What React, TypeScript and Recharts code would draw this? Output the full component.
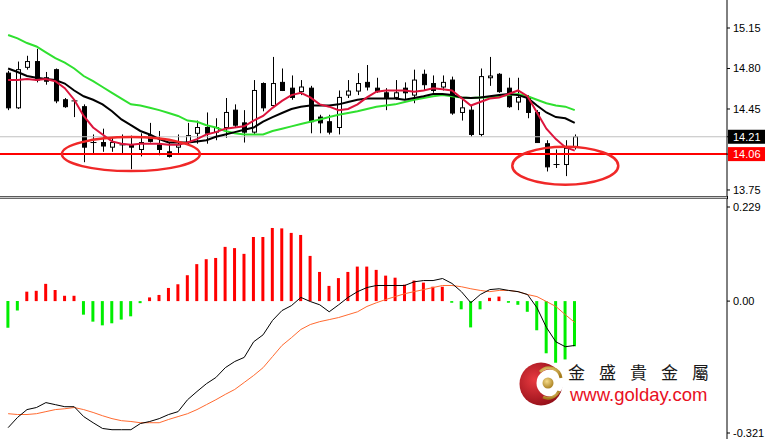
import {
  Bar,
  CartesianGrid,
  Cell,
  ComposedChart,
  Line,
  ReferenceDot,
  ReferenceLine,
  XAxis,
  YAxis,
} from "recharts";

// price panel, one entry per daily candle
const opens = [
  14.76, 14.46, 14.81, 14.86, 14.72, 14.79, 14.53, 14.52, 14.47, 14.16,
  14.16, 14.12, 14.14, 14.14, 14.1, 14.22, 14.14, 14.08, 14.12, 14.16,
  14.24, 14.29, 14.25, 14.29, 14.44, 14.33, 14.25, 14.67, 14.48, 14.68,
  14.63, 14.6, 14.63, 14.38, 14.34, 14.29, 14.57, 14.605, 14.68, 14.63,
  14.59, 14.55, 14.63, 14.57, 14.75, 14.67, 14.64, 14.7, 14.42, 14.44,
  14.23, 14.72, 14.75, 14.63, 14.51, 14.55, 14.42, 14.15, 13.97, 13.97,
  14.12,
];
const highs = [
  14.78, 14.86, 14.91, 14.97, 14.77, 14.8, 14.545, 14.53, 14.49, 14.23,
  14.28, 14.2, 14.23, 14.22, 14.24, 14.33, 14.26, 14.16, 14.23, 14.33,
  14.35, 14.42, 14.37, 14.545, 14.49, 14.44, 14.7, 14.68, 14.9, 14.8,
  14.74, 14.7, 14.65, 14.4, 14.4, 14.61, 14.7, 14.76, 14.83, 14.72,
  14.63, 14.7, 14.68, 14.79, 14.79, 14.74, 14.74, 14.73, 14.545, 14.48,
  14.8, 14.9, 14.76, 14.72, 14.72, 14.57, 14.44, 14.18, 14.1, 14.18,
  14.23,
];
const lows = [
  14.44, 14.45, 14.79, 14.68, 14.66, 14.5, 14.46, 14.38, 13.99, 14.07,
  14.08, 14.08, 14.07, 13.93, 14.04, 14.16, 14.05, 14.03, 14.07, 14.14,
  14.15, 14.15, 14.18, 14.2, 14.29, 14.16, 14.23, 14.43, 14.47, 14.605,
  14.53, 14.57, 14.24, 14.24, 14.23, 14.23, 14.545, 14.57, 14.61, 14.59,
  14.44, 14.53, 14.53, 14.5, 14.61, 14.59, 14.61, 14.4, 14.35, 14.21,
  14.21, 14.65, 14.59, 14.46, 14.44, 14.37, 14.16, 13.91, 13.94, 13.87,
  14.1,
];
const closes = [
  14.46, 14.79, 14.86, 14.7, 14.69, 14.52, 14.47, 14.51, 14.12, 14.155,
  14.13, 14.16, 14.135, 14.12, 14.16, 14.17, 14.1, 14.04, 14.14, 14.22,
  14.29, 14.24, 14.29, 14.42, 14.31, 14.25, 14.61, 14.46, 14.67, 14.61,
  14.55, 14.64, 14.34, 14.33, 14.25, 14.55, 14.605, 14.67, 14.64, 14.6,
  14.55, 14.59, 14.59, 14.7, 14.66, 14.61, 14.68, 14.415, 14.46, 14.23,
  14.73, 14.735, 14.6, 14.47, 14.55, 14.42, 14.16, 13.95, 13.966, 14.11,
  14.21,
];
const maFast = [
  14.7, 14.7, 14.71, 14.7, 14.71, 14.69, 14.63, 14.53, 14.39, 14.29,
  14.23, 14.17, 14.15, 14.14, 14.15, 14.15, 14.15, 14.14, 14.14, 14.16,
  14.19, 14.23, 14.25, 14.28, 14.29, 14.3, 14.35, 14.39, 14.46, 14.52,
  14.57, 14.59, 14.55, 14.49, 14.47, 14.44, 14.45, 14.49, 14.55, 14.6,
  14.61, 14.61, 14.61, 14.6, 14.61, 14.63, 14.62, 14.61, 14.545, 14.48,
  14.51, 14.54, 14.55, 14.58, 14.61, 14.56, 14.42, 14.28, 14.19, 14.12,
  14.09,
];
const maMid = [
  14.8, 14.77, 14.735, 14.72, 14.71, 14.7, 14.67, 14.61, 14.56, 14.53,
  14.49, 14.43, 14.36, 14.31, 14.26, 14.23, 14.19, 14.16, 14.16, 14.16,
  14.17, 14.18, 14.21, 14.23, 14.25, 14.27, 14.29, 14.34, 14.38, 14.415,
  14.45, 14.47, 14.48, 14.48, 14.48, 14.49, 14.51, 14.53, 14.54, 14.54,
  14.54, 14.54, 14.53, 14.545, 14.56, 14.58, 14.58, 14.57, 14.55, 14.545,
  14.55, 14.56, 14.57, 14.58, 14.57, 14.545, 14.48, 14.42, 14.38, 14.37,
  14.33,
];
const maSlow = [
  15.09, 15.06, 15.02, 14.99, 14.94, 14.89, 14.85, 14.8, 14.735, 14.69,
  14.64, 14.59, 14.54, 14.49, 14.48, 14.46, 14.44, 14.415, 14.39, 14.35,
  14.34, 14.31, 14.29, 14.26, 14.24, 14.23, 14.23, 14.23, 14.26, 14.28,
  14.3, 14.32, 14.34, 14.36, 14.38, 14.4, 14.415, 14.43, 14.45, 14.47,
  14.48, 14.49, 14.51, 14.53, 14.545, 14.56, 14.57, 14.56, 14.55, 14.545,
  14.55, 14.55, 14.56, 14.57, 14.58, 14.56, 14.53, 14.5, 14.48, 14.47,
  14.44,
];

// MACD panel
const histogram = [
  -0.065, -0.023, 0.023, 0.025, 0.042, 0.027, 0.013, 0.013, -0.033, -0.05,
  -0.059, -0.054, -0.045, -0.037, -0.005, 0.009, 0.015, 0.032, 0.041, 0.063,
  0.09, 0.102, 0.105, 0.132, 0.129, 0.115, 0.156, 0.156, 0.178, 0.177,
  0.166, 0.161, 0.11, 0.071, 0.037, 0.056, 0.071, 0.084, 0.084, 0.076,
  0.062, 0.057, 0.04, 0.05, 0.045, 0.035, 0.035, -0.004, -0.02, -0.064,
  -0.02, 0.008, 0.011, -0.004, -0.009, -0.026, -0.071, -0.127, -0.15, -0.142,
  -0.11,
];
const macdLine = [
  -0.308, -0.283, -0.264, -0.259, -0.247, -0.252, -0.257, -0.257, -0.281, -0.296,
  -0.31, -0.313, -0.313, -0.313, -0.298, -0.293, -0.286, -0.276, -0.269, -0.24,
  -0.22, -0.201, -0.186, -0.162, -0.147, -0.137, -0.099, -0.082, -0.047, -0.023,
  -0.011, 0.009, -0.001, -0.009, -0.026, -0.009, 0.009, 0.023, 0.033, 0.038,
  0.038, 0.038, 0.038, 0.047, 0.05, 0.05, 0.055, 0.043, 0.023, -0.004,
  0.016, 0.028, 0.03, 0.026, 0.023, 0.016, -0.016, -0.064, -0.099, -0.111,
  -0.108,
];
const signalLine = [
  -0.274, -0.276, -0.276, -0.274, -0.269, -0.264, -0.262, -0.259, -0.264, -0.271,
  -0.279, -0.286, -0.291, -0.293, -0.296, -0.296, -0.296, -0.288, -0.281, -0.274,
  -0.264, -0.252, -0.24, -0.227, -0.215, -0.198, -0.181, -0.162, -0.135, -0.108,
  -0.089, -0.069, -0.057, -0.05, -0.045, -0.04, -0.033, -0.026, -0.013, -0.004,
  0.004, 0.011, 0.018, 0.023, 0.028, 0.033, 0.038, 0.038, 0.035, 0.03,
  0.026, 0.023, 0.026, 0.026, 0.023, 0.016, 0.011, -0.001, -0.013, -0.033,
  -0.052,
];

const priceTicks = [13.75, 14.1, 14.45, 14.8, 15.15];
const macdTicks = [0.229, 0, -0.321];
const lastPrice = 14.21;
const supportPrice = 14.06;
// circled zones: [bar index, price]
const circles = [
  { i: 13, price: 14.06, rx: 69, ry: 17 },
  { i: 59, price: 13.96, rx: 53, ry: 19 },
];

const SLOTS = 76;
const gridSlots = Array.from({ length: 19 }, (_, k) => 2 + 4 * k);
const FONT = "'Liberation Sans', Arial, sans-serif";
const GRID = "#c4c4c4";
const xPadding = { left: 3.4, right: 5.9 };

const priceRows = Array.from({ length: SLOTS }, (_, i) =>
  i < closes.length
    ? {
        i,
        open: opens[i],
        high: highs[i],
        low: lows[i],
        close: closes[i],
        range: [lows[i], highs[i]],
        fast: maFast[i],
        mid: maMid[i],
        slow: maSlow[i],
      }
    : { i }
);

const macdRows = Array.from({ length: SLOTS }, (_, i) =>
  i < histogram.length
    ? { i, hist: histogram[i], macd: macdLine[i], signal: signalLine[i] }
    : { i }
);

// grid lines placed through the axis scales
const verticalGrid = ({ xAxis }: any) => {
  const sc = xAxis?.scale;
  if (typeof sc !== "function") return [];
  const half = typeof sc.bandwidth === "function" ? sc.bandwidth() / 2 : 0;
  return gridSlots.map((s) => sc(s) + half);
};
const horizontalGrid = (values: number[]) => ({ yAxis }: any) => {
  const sc = yAxis?.scale;
  if (typeof sc !== "function") return [];
  return values.map((v) => sc(v));
};

function Candle(props: any) {
  const { x, y, width, height, payload } = props;
  if (!payload || payload.open == null) return null;
  const top = Math.min(y, y + height);
  const h = Math.abs(height);
  const span = payload.high - payload.low || 1;
  const toY = (v: number) => top + ((payload.high - v) / span) * h;
  const cx = Math.round(x + width / 2) + 0.5;
  const yo = toY(payload.open);
  const yc = toY(payload.close);
  const bTop = Math.min(yo, yc);
  const bBot = Math.max(yo, yc);
  const up = payload.close >= payload.open;
  return (
    <g>
      <line x1={cx} x2={cx} y1={top} y2={top + h} stroke="#000" />
      {bBot - bTop < 1.5 ? (
        <line x1={cx - 3} x2={cx + 3} y1={yo} y2={yo} stroke="#000" />
      ) : (
        <rect
          x={cx - 2}
          y={bTop}
          width={4}
          height={bBot - bTop}
          fill={up ? "#fff" : "#000"}
          stroke="#000"
        />
      )}
    </g>
  );
}

function PriceTick(props: any) {
  const { x, y, payload } = props;
  const v = payload.value;
  if (v === lastPrice || v === supportPrice) {
    return (
      <g>
        <rect x={x - 5} y={y - 7} width={40} height={14} fill={v === lastPrice ? "#000" : "#ff0000"} />
        <text x={x} y={y + 4} fill="#fff" fontSize={11} fontFamily={FONT}>
          {v.toFixed(2)}
        </text>
      </g>
    );
  }
  return (
    <text x={x} y={y + 4} fill="#000" fontSize={11} fontFamily={FONT}>
      {v.toFixed(2)}
    </text>
  );
}

function MacdTick(props: any) {
  const { x, y, payload } = props;
  const v = payload.value;
  const label = v === 0 ? "0.00" : v.toFixed(3);
  return (
    <text x={x} y={y + 4} fill="#000" fontSize={11} fontFamily={FONT}>
      {label}
    </text>
  );
}

function Ellipse(rx: number, ry: number) {
  return (p: any) => (
    <ellipse cx={p.cx} cy={p.cy} rx={rx} ry={ry} fill="none" stroke="#f02828" strokeWidth={2.5} />
  );
}

function Logo() {
  return (
    <svg width={765} height={439} style={{ position: "absolute", left: 0, top: 0, pointerEvents: "none" }}>
      <defs>
        <radialGradient id="ball" cx="35%" cy="40%" r="70%">
          <stop offset="0%" stopColor="#e83a40" />
          <stop offset="100%" stopColor="#8e0c16" />
        </radialGradient>
        <radialGradient id="gold" cx="40%" cy="35%" r="70%">
          <stop offset="0%" stopColor="#f6dc8a" />
          <stop offset="100%" stopColor="#a67c1c" />
        </radialGradient>
      </defs>
      <circle cx={541} cy={384} r={21.5} fill="url(#ball)" />
      <circle cx={550} cy={383} r={13.5} fill="#fff" />
      <path d="M540 372 A12 12 0 0 1 561 378" fill="none" stroke="url(#gold)" strokeWidth={3} />
      <path d="M559 391 A12 12 0 0 1 543 397" fill="none" stroke="url(#gold)" strokeWidth={3} />
      <circle cx={548} cy={383} r={5.5} fill="url(#gold)" />
      <text x={568} y={379} fontSize={17} letterSpacing={14} fill="#1a1a1a" fontFamily="'Noto Sans CJK TC', sans-serif">
        金盛貴金屬
      </text>
      <text x={570} y={400.5} fontSize={18.5} fill="#e8101e" fontFamily={FONT}>
        www.golday.com
      </text>
    </svg>
  );
}

export default function App() {
  return (
    <div style={{ position: "absolute", left: 0, top: 0, width: 765, height: 439, background: "#fff", overflow: "hidden", fontFamily: FONT }}>
      <div style={{ position: "absolute", left: 0, top: 0 }}>
        <ComposedChart width={765} height={196} data={priceRows} margin={{ top: 0, right: 0, bottom: 0, left: 0 }} barCategoryGap="10%">
          <XAxis dataKey="i" type="category" hide padding={xPadding} />
          <YAxis
            orientation="right"
            width={38}
            domain={[13.698, 15.392]}
            allowDataOverflow
            ticks={[13.75, supportPrice, lastPrice, 14.45, 14.8, 15.15]}
            interval={0}
            tick={PriceTick}
            tickSize={3}
            tickMargin={3}
            axisLine={{ stroke: "#000" }}
            tickLine={{ stroke: "#000" }}
          />
          <CartesianGrid
            stroke={GRID}
            strokeDasharray="3 3"
            verticalCoordinatesGenerator={verticalGrid}
            horizontalCoordinatesGenerator={horizontalGrid(priceTicks)}
          />
          <ReferenceLine y={lastPrice} stroke="#c0c0c0" />
          <ReferenceLine y={supportPrice} stroke="#ff0000" strokeWidth={2} />
          <Bar dataKey="range" shape={Candle} isAnimationActive={false} />
          <Line dataKey="slow" stroke="#2fe02f" strokeWidth={2} dot={false} activeDot={false} isAnimationActive={false} />
          <Line dataKey="mid" stroke="#000" strokeWidth={2} dot={false} activeDot={false} isAnimationActive={false} />
          <Line dataKey="fast" stroke="#dc143c" strokeWidth={2} dot={false} activeDot={false} isAnimationActive={false} />
          {circles.map((c) => (
            <ReferenceDot key={c.i} x={c.i} y={c.price} r={1} ifOverflow="visible" shape={Ellipse(c.rx, c.ry)} />
          ))}
        </ComposedChart>
      </div>

      <div style={{ position: "absolute", left: 0, top: 196, width: 727, height: 1, background: "#5a5a5a" }} />
      <div style={{ position: "absolute", left: 0, top: 197, width: 727, height: 1, background: "#c8c8c8" }} />
      <div style={{ position: "absolute", left: 0, top: 198, width: 727, height: 1, background: "#6a6a6a" }} />
      <div style={{ position: "absolute", left: 727, top: 196, width: 1, height: 3, background: "#000" }} />

      <div style={{ position: "absolute", left: 0, top: 199 }}>
        <ComposedChart width={765} height={240} data={macdRows} margin={{ top: 0, right: 0, bottom: 0, left: 0 }}>
          <XAxis dataKey="i" type="category" hide padding={xPadding} />
          <YAxis
            orientation="right"
            width={38}
            domain={[-0.3356, 0.2485]}
            allowDataOverflow
            ticks={macdTicks}
            interval={0}
            tick={MacdTick}
            tickSize={3}
            tickMargin={3}
            axisLine={{ stroke: "#000" }}
            tickLine={{ stroke: "#000" }}
          />
          <CartesianGrid
            stroke={GRID}
            strokeDasharray="3 3"
            verticalCoordinatesGenerator={verticalGrid}
            horizontalCoordinatesGenerator={horizontalGrid([0])}
          />
          <Bar dataKey="hist" barSize={3} isAnimationActive={false}>
            {macdRows.map((r: any) => (
              <Cell key={r.i} fill={(r.hist ?? 0) >= 0 ? "#ff0000" : "#00ee00"} />
            ))}
          </Bar>
          <Line dataKey="signal" stroke="#ff6a30" strokeWidth={1} dot={false} activeDot={false} isAnimationActive={false} />
          <Line dataKey="macd" stroke="#000" strokeWidth={1} dot={false} activeDot={false} isAnimationActive={false} />
        </ComposedChart>
      </div>

      <Logo />
    </div>
  );
}
